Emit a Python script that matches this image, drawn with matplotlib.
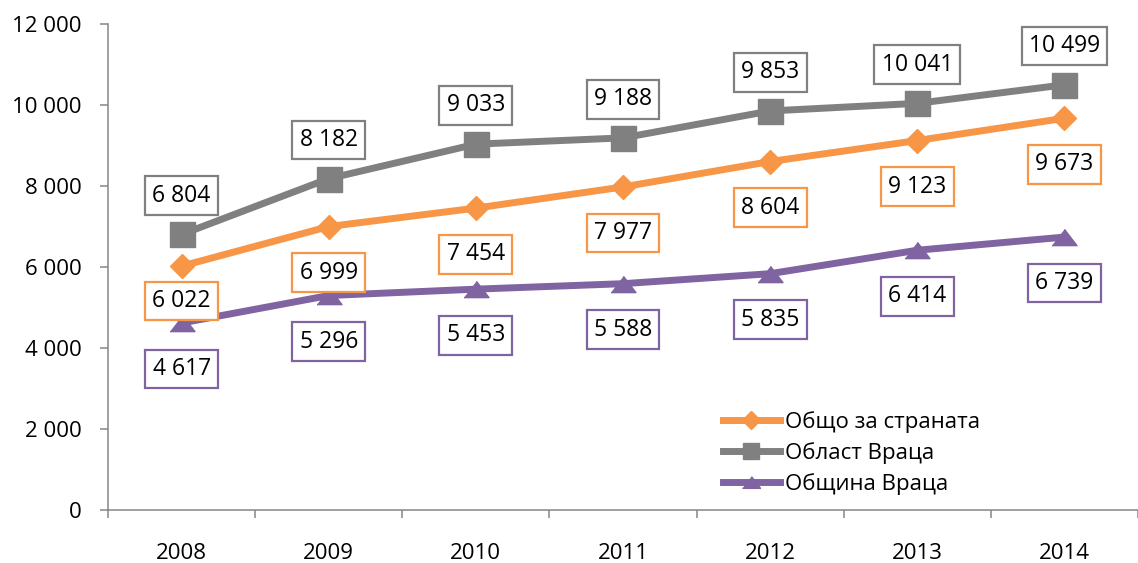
import matplotlib
matplotlib.use("Agg")
import matplotlib.pyplot as plt
from matplotlib.ticker import FuncFormatter
from matplotlib.lines import Line2D

plt.rcParams['font.family'] = ['Open Sans', 'DejaVu Sans']

years = ["2008", "2009", "2010", "2011", "2012", "2013", "2014"]
country = [6022, 6999, 7454, 7977, 8604, 9123, 9673]
region = [6804, 8182, 9033, 9188, 9853, 10041, 10499]
municipality = [4617, 5296, 5453, 5588, 5835, 6414, 6739]
names = ["Общо за страната", "Област Враца", "Община Враца"]

c_or = "#F79646"
c_gr = "#808080"
c_pu = "#8064A2"
tri = [(-1, -0.65), (1, -0.65), (0, 0.65)]

W, H = 1138, 563
fig = plt.figure(figsize=(W / 100, H / 100), dpi=100)
ax = fig.add_axes([108 / W, 53 / H, 1030 / W, 486 / H])

x = list(range(len(years)))
ax.plot(x, country, color=c_or, lw=5, marker="D", ms=12.5, zorder=3)
ax.plot(x, region, color=c_gr, lw=5, marker="s", ms=18, zorder=3)
ax.plot(x, municipality, color=c_pu, lw=5, marker=tri, ms=18, zorder=3)

def fmt(v):
    return f"{v:,}".replace(",", " ")

def label(xi, v, off, col):
    ax.annotate(fmt(v), (xi, v), xytext=(0, off), textcoords="offset points",
                ha="center", va="center_baseline", fontsize=16.5, zorder=5,
                bbox=dict(boxstyle="square,pad=0.32", fc="white", ec=col, lw=1.6))

for i in x:
    label(i, region[i], 30, c_gr)
    label(i, country[i], -23 if i == 0 else -31, c_or)
    label(i, municipality[i], -31, c_pu)

ax.set_xlim(-0.5, len(years) - 0.5)
ax.set_ylim(0, 12000)
ax.set_yticks(range(0, 12001, 2000))
ax.yaxis.set_major_formatter(FuncFormatter(lambda v, p: fmt(int(v))))
ax.set_xticks(x)
ax.set_xticklabels(years)
ax.set_xticks([i - 0.5 for i in range(len(years) + 1)], minor=True)
ax.tick_params(axis="x", which="major", length=0, labelsize=16, pad=24)
ax.tick_params(axis="x", which="minor", length=6, width=1.1, color="#868686")
ax.tick_params(axis="y", length=6, width=1.1, color="#868686", labelsize=16, pad=13)

for s in ["top", "right"]:
    ax.spines[s].set_visible(False)
for s in ["left", "bottom"]:
    ax.spines[s].set_color("#868686")
    ax.spines[s].set_linewidth(1.1)

handles = [
    Line2D([], [], color=c_or, lw=5, marker="D", ms=9),
    Line2D([], [], color=c_gr, lw=5, marker="s", ms=11.5),
    Line2D([], [], color=c_pu, lw=5, marker=tri, ms=13),
]
leg = fig.legend(handles, names, loc="center left",
                 bbox_to_anchor=(723 / W, 1 - 453 / H), frameon=False,
                 fontsize=16, handlelength=2.55, handletextpad=0.25,
                 labelspacing=0.42, borderpad=0, borderaxespad=0)

fig.savefig("out.png", dpi=100)
